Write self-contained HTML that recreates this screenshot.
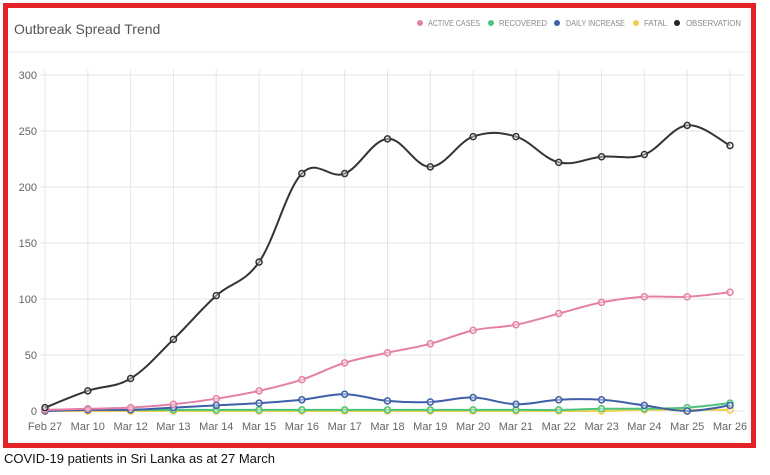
<!DOCTYPE html>
<html><head><meta charset="utf-8"><style>
body{margin:0;background:#fff;width:770px;height:470px;overflow:hidden;font-family:"Liberation Sans",sans-serif}
</style></head><body>
<svg id="s" width="770" height="470" xmlns="http://www.w3.org/2000/svg" font-family="Liberation Sans, sans-serif">
<rect x="5.5" y="5.5" width="748" height="440" fill="#fff" stroke="#e32227" stroke-width="5"/>
<text x="14" y="34" font-size="14" fill="#555">Outbreak Spread Trend</text>
<line x1="8" y1="52" x2="751" y2="52" stroke="#eee"/>
<g font-size="8" fill="#888">
<circle cx="420" cy="23" r="3" fill="#e57fa6"/><text x="428" y="26" textLength="52" lengthAdjust="spacingAndGlyphs">ACTIVE CASES</text>
<circle cx="491" cy="23" r="3" fill="#4cc47a"/><text x="499" y="26" textLength="48" lengthAdjust="spacingAndGlyphs">RECOVERED</text>
<circle cx="557" cy="23" r="3" fill="#3f5fa8"/><text x="566" y="26" textLength="59" lengthAdjust="spacingAndGlyphs">DAILY INCREASE</text>
<circle cx="636" cy="23" r="3" fill="#f0d050"/><text x="644" y="26" textLength="23" lengthAdjust="spacingAndGlyphs">FATAL</text>
<circle cx="677" cy="23" r="3" fill="#222"/><text x="686" y="26" textLength="55" lengthAdjust="spacingAndGlyphs">OBSERVATION</text>
</g>
<g id="grid" stroke="#e6e6e6" stroke-width="1"></g>
<g font-size="11" fill="#666" text-anchor="end">
<text x="37" y="79">300</text><text x="37" y="135">250</text><text x="37" y="191">200</text>
<text x="37" y="247">150</text><text x="37" y="303">100</text><text x="37" y="359">50</text><text x="37" y="415">0</text>
</g>
<g id="xl" font-size="11" fill="#666" text-anchor="middle">
<text x="45" y="430">Feb 27</text><text x="86" y="430">Mar 10</text><text x="127" y="430">Mar 12</text><text x="168" y="430">Mar 13</text><text x="209" y="430">Mar 14</text><text x="250" y="430">Mar 15</text><text x="291" y="430">Mar 16</text><text x="332" y="430">Mar 17</text><text x="373" y="430">Mar 18</text><text x="414" y="430">Mar 19</text><text x="455" y="430">Mar 20</text><text x="496" y="430">Mar 21</text><text x="537" y="430">Mar 22</text><text x="578" y="430">Mar 23</text><text x="619" y="430">Mar 24</text><text x="660" y="430">Mar 25</text><text x="701" y="430">Mar 26</text>
</g>
<g id="series"></g>
<text x="4" y="463" font-size="13" fill="#111">COVID-19 patients in Sri Lanka as at 27 March</text>
</svg>
<script>
var X0=45,DX=(730-45)/16,Y0=411,K=1.12,ns="http://www.w3.org/2000/svg";
var xl=document.querySelectorAll('#xl text');
for(var i=0;i<17;i++)xl[i].setAttribute('x',(X0+DX*i).toFixed(1));
var g=document.getElementById('grid');
function ln(a,b,c,d){var l=document.createElementNS(ns,'line');l.setAttribute('x1',a);l.setAttribute('y1',b);l.setAttribute('x2',c);l.setAttribute('y2',d);g.appendChild(l);}
for(i=0;i<=6;i++)ln(40,Y0-i*50*K,745,Y0-i*50*K);
for(i=0;i<17;i++)ln(X0+DX*i,70,X0+DX*i,415);
var S=[
["#f0d050",[0,0,0,0,0,0,0,0,0,0,0,0,0,0,1,1,1]],
["#4cc47a",[1,1,1,1,1,1,1,1,1,1,1,1,1,2,2,3,7]],
["#3f5fa8",[0,1,1,3,5,7,10,15,9,8,12,6,10,10,5,0,5]],
["#e57fa6",[1,2,3,6,11,18,28,43,52,60,72,77,87,97,102,102,106]],
["#333",[3,18,29,64,103,133,212,212,243,218,245,245,222,227,229,255,237]]];
var sg=document.getElementById('series');
S.forEach(function(s){var p=s[1].map(function(v,i){return [X0+DX*i,Y0-v*K]});
var d="M"+p[0];for(var i=0;i<p.length-1;i++){var a=p[Math.max(i-1,0)],b=p[i],c=p[i+1],e=p[Math.min(i+2,p.length-1)],t=0.18;
d+="C"+(b[0]+(c[0]-a[0])*t)+","+(b[1]+(c[1]-a[1])*t)+" "+(c[0]-(e[0]-b[0])*t)+","+(c[1]-(e[1]-b[1])*t)+" "+c;}
var pa=document.createElementNS(ns,'path');pa.setAttribute('d',d);pa.setAttribute('fill','none');pa.setAttribute('stroke',s[0]);pa.setAttribute('stroke-width','2');sg.appendChild(pa);
p.forEach(function(q){var c=document.createElementNS(ns,'circle');c.setAttribute('cx',q[0]);c.setAttribute('cy',q[1]);c.setAttribute('r',3);c.setAttribute('fill','rgba(255,255,255,0.4)');c.setAttribute('stroke',s[0]);c.setAttribute('stroke-width','1.5');sg.appendChild(c);});});
</script>
</body></html>
